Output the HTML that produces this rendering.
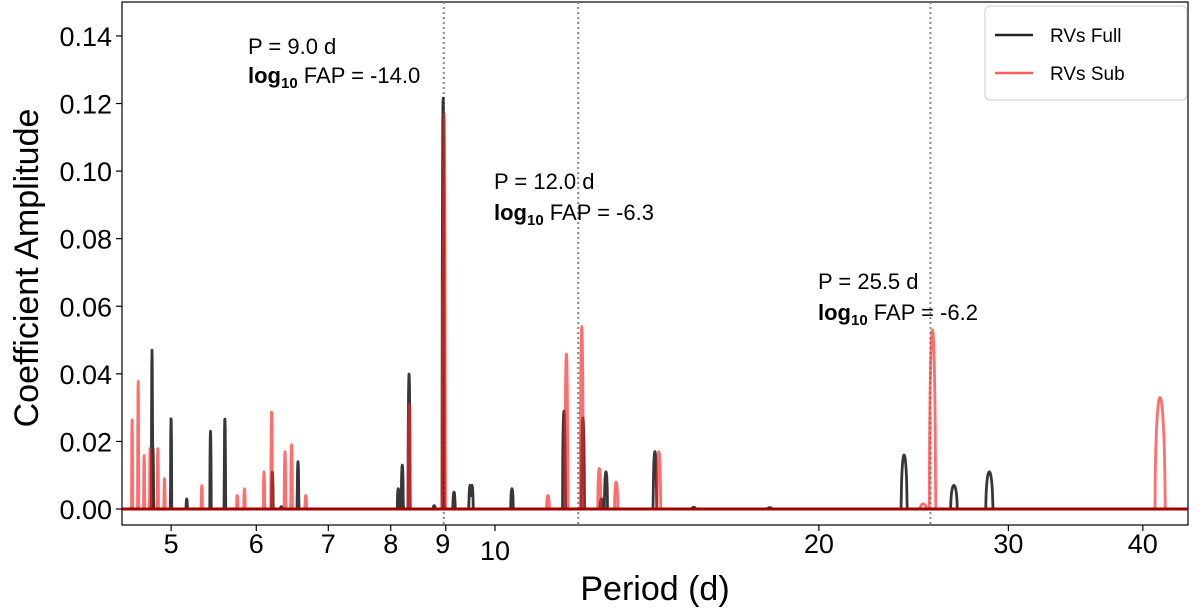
<!DOCTYPE html>
<html><head><meta charset="utf-8"><style>
html,body{margin:0;padding:0;background:#fff;}
svg{display:block;font-family:"Liberation Sans",sans-serif;}
</style></head><body>
<svg id="chart" width="1200" height="613" viewBox="0 0 1200 613">
<rect x="122" y="2" width="1066" height="523" fill="none" stroke="#000" stroke-width="1.2"/>
<g id="grid"></g>
<g id="series"></g>
<g id="axes"></g>
<text transform="translate(38,268) rotate(-90)" text-anchor="middle" font-size="34">Coefficient Amplitude</text>
<text x="655" y="600" text-anchor="middle" font-size="34">Period (d)</text>
<g font-size="22">
<text x="248" y="54">P = 9.0 d</text>
<text x="248" y="83"><tspan font-weight="bold">log<tspan font-size="15" dy="5">10</tspan></tspan><tspan dy="-5"> FAP = -14.0</tspan></text>
</g>
<g font-size="22">
<text x="494" y="189">P = 12.0 d</text>
<text x="494" y="220"><tspan font-weight="bold">log<tspan font-size="15" dy="5">10</tspan></tspan><tspan dy="-5"> FAP = -6.3</tspan></text>
</g>
<g font-size="22">
<text x="818" y="289">P = 25.5 d</text>
<text x="818" y="320"><tspan font-weight="bold">log<tspan font-size="15" dy="5">10</tspan></tspan><tspan dy="-5"> FAP = -6.2</tspan></text>
</g>
<g>
<rect x="985" y="6" width="202" height="94" rx="5" fill="#fff" stroke="#ccc" stroke-width="1"/>
<line x1="995" y1="35" x2="1033" y2="35" stroke="#222" stroke-width="2.5"/>
<text x="1050" y="42" font-size="19">RVs Full</text>
<line x1="995" y1="73" x2="1033" y2="73" stroke="rgba(255,40,40,0.75)" stroke-width="2.5"/>
<text x="1050" y="80" font-size="19">RVs Sub</text>
</g>
</svg>
<script>
const yTicks=[0,0.02,0.04,0.06,0.08,0.10,0.12,0.14];
const xTicks=[5,6,7,8,9,10,20,30,40];
const markedPeriods=[9.0,12.0,25.5];
const fullPeriods=[4.80,4.81,5.0,5.17,5.44,5.61,6.21,6.33,6.56,8.13,8.2,8.32,8.78,8.95,9.16,9.48,9.52,10.37,11.59,12.07,12.56,12.68,14.08,15.3,18.0,24.0,26.7,28.8];
const fullAmps=[0.047,0.018,0.027,0.003,0.023,0.027,0.011,0.0007,0.014,0.006,0.013,0.040,0.001,0.122,0.005,0.007,0.007,0.006,0.029,0.027,0.003,0.011,0.017,0.0005,0.0004,0.016,0.007,0.011];
const subPeriods=[4.6,4.66,4.72,4.78,4.86,4.93,5.34,5.76,5.85,6.1,6.2,6.38,6.47,6.67,8.32,8.97,8.95,11.2,11.65,12.04,12.5,12.96,14.2,25.0,25.5,41.5];
const subAmps=[0.027,0.038,0.016,0.018,0.018,0.009,0.007,0.004,0.006,0.011,0.029,0.017,0.019,0.004,0.031,0.117,0.068,0.004,0.046,0.054,0.012,0.008,0.017,0.0015,0.053,0.033];

const X0=495,PXDEC=1076,Y0=509,PXU=3379,L=122,R=1188;
function xs(p){return X0+PXDEC*(Math.log10(p)-1);}
function ys(v){return Y0-PXU*v;}
function px2p(x){return Math.pow(10,(x-X0)/PXDEC+1);}
const NS='http://www.w3.org/2000/svg';
function mk(tag,attrs,parent){const e=document.createElementNS(NS,tag);for(const k in attrs)e.setAttribute(k,attrs[k]);parent.appendChild(e);return e;}
const axes=document.getElementById('axes'),grid=document.getElementById('grid'),series=document.getElementById('series');

markedPeriods.forEach(p=>{
 const l=mk('line',{x1:xs(p)-2,x2:xs(p)-2,y1:2,y2:525,stroke:'#888','stroke-width':2,'stroke-dasharray':'2,3'},grid);
 
 
});
yTicks.forEach(v=>{
 const y=ys(v);
 const t=mk('line',{x1:116,x2:122,y1:y,y2:y,stroke:'#000','stroke-width':1.2},axes);
 
 
 const tx=mk('text',{x:112,y:y+10,'text-anchor':'end','font-size':27},axes);
 
 
 tx.textContent=v.toFixed(2);
});
xTicks.forEach(p=>{
 const x=xs(p);
 const t=mk('line',{x1:x,x2:x,y1:525,y2:531,stroke:'#000','stroke-width':1.2},axes);
 
 
 const tx=mk('text',{x:(p===9?x-3:x),y:(p===10?560:553),'text-anchor':'middle','font-size':27},axes);
 
 
 tx.textContent=String(p);
});

function curve(periods,amps){
 const pts=[];
 for(let x=L;x<=R;x+=0.25){
  const p=px2p(x),f=1/p;let v=0;
  for(let i=0;i<periods.length;i++){
   const f0=1/periods[i];
   const df=2.6e-4;
   const u=(f-f0)/df;
   if(Math.abs(u)<1){const b=amps[i]*Math.sqrt(1-u*u);if(b>v)v=b;}
  }
  pts.push(x.toFixed(2)+','+ys(v).toFixed(2));
 }
 return pts.join(' ');
}
const full=mk('polyline',{points:curve(fullPeriods,fullAmps),fill:'none',stroke:'rgba(20,20,20,0.85)','stroke-width':2.8,'stroke-linejoin':'round'},series);


const sub=mk('polyline',{points:curve(subPeriods,subAmps),fill:'none',stroke:'rgba(255,30,30,0.65)','stroke-width':2.8,'stroke-linejoin':'round'},series);


const base=mk('line',{x1:L,x2:R,y1:Y0,y2:Y0,stroke:'#a00000','stroke-width':3},series);


</script>
</body></html>
